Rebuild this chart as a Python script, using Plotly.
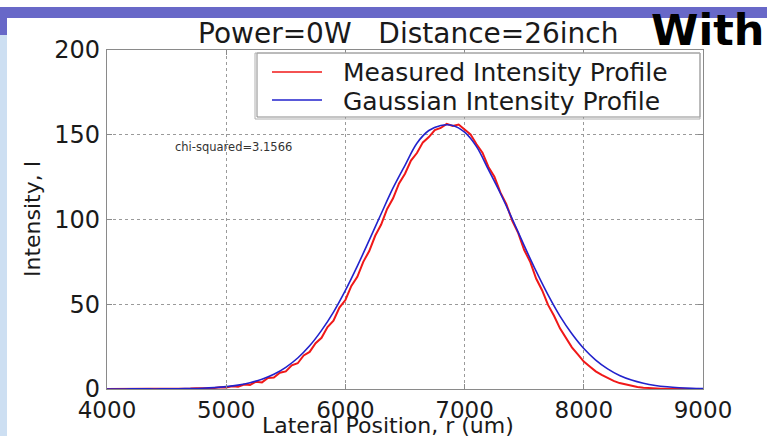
import plotly.graph_objects as go

# ---- data ----
x_meas = list(range(4000, 9001, 50))
y_meas = [0, 0, 0, 0.1, 0, 0.1, 0, 0.1, 0.2, 0.1,
          0.2, 0.3, 0.2, 0.4, 0.3, 0.5, 0.4, 0.7, 0.6, 1.0,
          0.9, 1.6, 1.4, 2.6, 2.4, 4.3, 3.9, 6.5, 6.8, 9.6,
          10.4, 14.0, 15.2, 19.8, 21.9, 27.0, 30.2, 36.5, 40.3, 48.0,
          52.5, 60.8, 66.2, 75.0, 81.4, 90.4, 97.0, 106.2, 112.5, 121.3,
          127.0, 134.8, 139.2, 145.5, 148.6, 152.8, 154.0, 156.4, 155.2, 156.0,
          153.0, 150.2, 144.4, 139.4, 131.0, 125.2, 116.0, 109.1, 99.2, 92.0,
          82.0, 75.1, 65.2, 58.3, 49.6, 43.2, 35.8, 30.4, 24.6, 20.4,
          16.2, 13.3, 10.4, 8.3, 6.4, 4.8, 3.5, 2.6, 1.9, 1.2,
          0.8, 0.5, 0.3, 0.2, 0.2, 0.1, 0.1, 0, 0, 0, 0]

x_gauss = list(range(4000, 9001, 100))
y_gauss = [0.02, 0.03, 0.05, 0.07, 0.04, 0.08, 0.15, 0.27, 0.48, 0.83,
           1.4, 2.3, 3.7, 5.8, 8.7, 12.8, 18.3, 25.5, 34.6, 45.4,
           58.2, 72.5, 87.8, 103.4, 118.6, 132.0, 145.0, 152.5, 155.5, 155.5,
           151.5, 143.0, 129.4, 115.5, 100.3, 84.6, 69.5, 55.5, 43.0, 32.6,
           23.9, 17.1, 11.9, 8.0, 5.3, 3.4, 2.1, 1.3, 0.77, 0.43, 0.23]

x_ticks = [4000, 5000, 6000, 7000, 8000, 9000]
y_ticks = [0, 50, 100, 150, 200]

series_names = ["Measured Intensity Profile", "Gaussian Intensity Profile"]
series_colors = ["#f01818", "#2222cc"]
title_text = "Power=0W   Distance=26inch"
chi_text = "chi-squared=3.1566"
corner_text = "With"

FONT = "DejaVu Sans"
L, R, T, B = 107, 64, 50, 47
W, H = 767, 436
PW, PH = W - L - R, H - T - B


def px(xp):
    return (xp - L) / PW


def py(yp):
    return (H - B - yp) / PH


fig = go.Figure()
fig.add_trace(go.Scatter(x=x_meas, y=y_meas, mode="lines", name=series_names[0],
                         line=dict(color=series_colors[0], width=2)))
fig.add_trace(go.Scatter(x=x_gauss, y=y_gauss, mode="lines", name=series_names[1],
                         line=dict(color=series_colors[1], width=1.6, shape="spline")))

axis_common = dict(showline=True, linecolor="#8a8a8a", linewidth=1.2, mirror="ticks",
                   ticks="inside", ticklen=5, tickcolor="#8a8a8a",
                   showgrid=True, gridcolor="#9a9a9a", griddash="dot", gridwidth=1,
                   zeroline=False)

fig.update_xaxes(range=[4000, 9000], tickvals=x_ticks,
                 tickfont=dict(family=FONT, size=23, color="#1a1a1a"), **axis_common)
fig.update_yaxes(range=[0, 200], tickvals=y_ticks, ticklabelstandoff=1,
                 tickfont=dict(family=FONT, size=24, color="#1a1a1a"), **axis_common)

shapes = [
    # purple top band
    dict(type="rect", xref="paper", yref="paper", x0=px(0), x1=px(W), y0=py(18), y1=py(7),
         fillcolor="#6868c8", line=dict(width=0), layer="below"),
    dict(type="rect", xref="paper", yref="paper", x0=px(0), x1=px(7), y0=py(35), y1=py(18),
         fillcolor="#6868c8", line=dict(width=0), layer="below"),
    # light blue left strip
    dict(type="rect", xref="paper", yref="paper", x0=px(0), x1=px(7), y0=py(H), y1=py(35),
         fillcolor="#cddff2", line=dict(width=0), layer="below"),
    # legend box (double frame)
    dict(type="rect", xref="paper", yref="paper", x0=px(257), x1=px(700), y0=py(117), y1=py(53),
         fillcolor="white", line=dict(color="#8a8a8a", width=1), layer="above"),
    dict(type="rect", xref="paper", yref="paper", x0=px(255), x1=px(700), y0=py(119), y1=py(53),
         fillcolor="rgba(0,0,0,0)", line=dict(color="#b0b0b0", width=1), layer="above"),
]

annotations = [
    dict(text=title_text, xref="paper", yref="paper", x=px(408), y=py(33), showarrow=False,
         xanchor="center", yanchor="middle", font=dict(family=FONT, size=28, color="#1a1a1a")),
    dict(text=corner_text, xref="paper", yref="paper", x=px(707), y=py(30), showarrow=False,
         xanchor="center", yanchor="middle", font=dict(family=FONT, size=43, color="#000000", weight="bold")),
    dict(text=chi_text, xref="paper", yref="paper", x=px(233), y=py(147), showarrow=False,
         xanchor="center", yanchor="middle", font=dict(family=FONT, size=11.5, color="#333333")),
    dict(text="Lateral Position, r (um)", xref="paper", yref="paper", x=px(388), y=py(425),
         showarrow=False, xanchor="center", yanchor="middle",
         font=dict(family=FONT, size=22, color="#1a1a1a")),
    dict(text="Intensity, I", xref="paper", yref="paper", x=px(32), y=py(219), textangle=-90,
         showarrow=False, xanchor="center", yanchor="middle",
         font=dict(family=FONT, size=22, color="#1a1a1a")),
]

# hand-built legend entries (sample line + label)
for i, (nm, col) in enumerate(zip(series_names, series_colors)):
    yy = 72 + 28 * i
    shapes.append(dict(type="line", xref="paper", yref="paper", x0=px(272), x1=px(322),
                       y0=py(yy), y1=py(yy), line=dict(color=col, width=1.6), layer="above"))
    annotations.append(dict(text=nm, xref="paper", yref="paper", x=px(341), y=py(yy + 1),
                            showarrow=False, xanchor="left", yanchor="middle",
                            font=dict(family=FONT, size=25, color="#1a1a1a")))

fig.update_layout(
    width=W, height=H, margin=dict(l=L, r=R, t=T, b=B),
    paper_bgcolor="white", plot_bgcolor="white",
    shapes=shapes, annotations=annotations,
    showlegend=False,
)

fig.write_html("out.html")
